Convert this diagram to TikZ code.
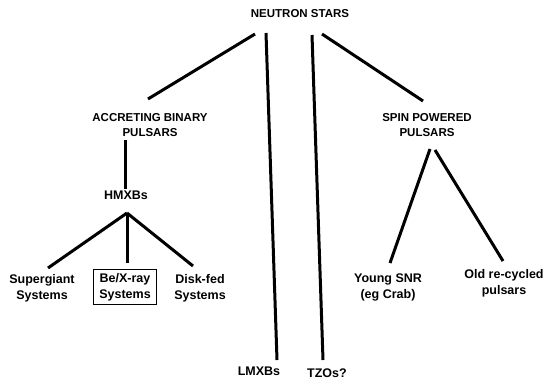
\documentclass[tikz,border=0pt]{standalone}
\usepackage{fontspec}
\setmainfont{Liberation Sans}
\usepackage{tikz}
\usetikzlibrary{arrows,shapes,positioning}

\begin{document}
\begin{tikzpicture}[x=1pt,y=1pt]
                    \tikzstyle{every node}+=[inner sep=0pt, align=center]
                    \tikzstyle{heading}=[font=\fontsize{11.5}{15}\selectfont\bfseries]
                    \tikzstyle{leaf}=[font=\fontsize{12.5}{16}\selectfont\bfseries]
                    \tikzstyle{branch}=[black, line width=3pt]
                    \useasboundingbox (0,0) rectangle (545,-384);
                    \draw (300,-14) node [heading] (ns) {NEUTRON STARS};
                    \draw (150,-125) node [heading] (acc) {ACCRETING BINARY\\PULSARS};
                    \draw (427,-125) node [heading] (spin) {SPIN POWERED\\PULSARS};
                    \draw (126,-195) node [leaf] (hmxb) {HMXBs};
                    \draw (42,-288) node [leaf] (sg) {Supergiant\\Systems};
                    \draw (125,-287) node [leaf, draw, line width=1.1pt, inner xsep=6pt, inner ysep=4pt] (bex) {Be/X-ray\\Systems};
                    \draw (200,-288) node [leaf] (disk) {Disk-fed\\Systems};
                    \draw (259,-371) node [leaf] (lmxb) {LMXBs};
                    \draw (327,-373) node [leaf] (tzo) {TZOs?};
                    \draw (388,-287) node [leaf] (young) {Young SNR\\(eg Crab)};
                    \draw (504,-283) node [leaf] (old) {Old re-cycled\\pulsars};
                    % top level
                    \draw [branch] ([xshift=-45pt,yshift=-20pt]ns.center) -- ([xshift=-2pt,yshift=26pt]acc.center);
                    \draw [branch] ([xshift=-34pt,yshift=-19pt]ns.center) -- ([xshift=18pt,yshift=11pt]lmxb.center);
                    \draw [branch] ([xshift=12pt,yshift=-21pt]ns.center) -- ([xshift=-4pt,yshift=13pt]tzo.center);
                    \draw [branch] ([xshift=22pt,yshift=-20pt]ns.center) -- ([xshift=-4pt,yshift=24pt]spin.center);
                    % accreting side
                    \draw [branch] ([xshift=-25pt,yshift=-15pt]acc.center) -- ([xshift=-1pt,yshift=6pt]hmxb.center);
                    \draw [branch] ([xshift=1pt,yshift=-18pt]hmxb.center) -- ([xshift=6pt,yshift=20pt]sg.center);
                    \draw [branch] ([xshift=1pt,yshift=-18pt]hmxb.center) -- ([xshift=2pt,yshift=24pt]bex.center);
                    \draw [branch] ([xshift=1pt,yshift=-18pt]hmxb.center) -- ([xshift=-7pt,yshift=22pt]disk.center);
                    % spin powered side
                    \draw [branch] ([xshift=3pt,yshift=-24pt]spin.center) -- ([xshift=2pt,yshift=24pt]young.center);
                    \draw [branch] ([xshift=8pt,yshift=-25pt]spin.center) -- ([xshift=-1pt,yshift=22pt]old.center);
                \end{tikzpicture}
\end{document}
